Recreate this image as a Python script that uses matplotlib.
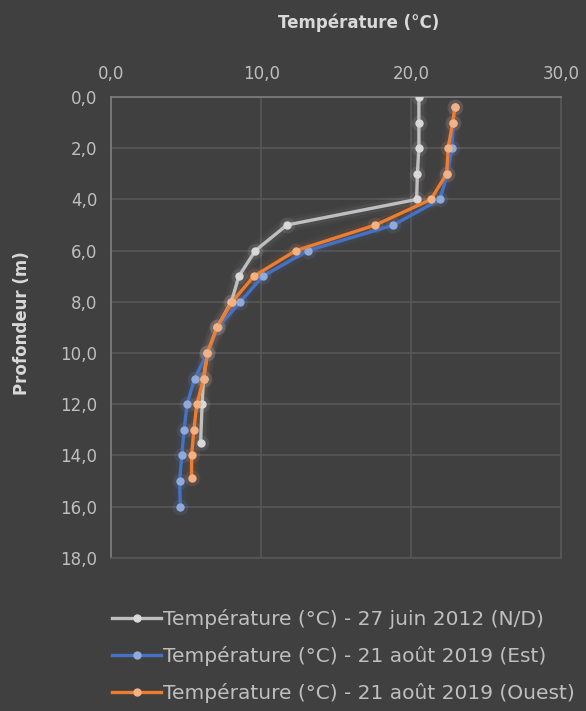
import matplotlib.pyplot as plt

plt.rcParams["font.family"] = ["DejaVu Sans"]

# profil 27 juin 2012 (N/D)
depth_nd = [0, 1, 2, 3, 4, 5, 6, 7, 8, 9, 10, 11, 12, 13.5]
temp_nd = [20.5, 20.5, 20.5, 20.4, 20.35, 11.7, 9.6, 8.5, 8.0, 7.05, 6.4, 6.15, 6.05, 5.95]

# profil 21 août 2019 (Est)
depth_est = [0.4, 1, 2, 3, 4, 5, 6, 7, 8, 9, 10, 11, 12, 13, 14, 15, 16]
temp_est = [22.9, 22.8, 22.7, 22.4, 21.9, 18.8, 13.1, 10.1, 8.6, 7.1, 6.4, 5.55, 5.05, 4.85, 4.7, 4.55, 4.6]

# profil 21 août 2019 (Ouest)
depth_ouest = [0.4, 1, 2, 3, 4, 5, 6, 7, 8, 9, 10, 11, 12, 13, 14, 14.9]
temp_ouest = [22.9, 22.75, 22.45, 22.35, 21.3, 17.6, 12.3, 9.5, 8.05, 7.05, 6.4, 6.15, 5.7, 5.5, 5.35, 5.35]

series = [
    ("Température (°C) - 27 juin 2012 (N/D)", temp_nd, depth_nd, "#bfbfbf", "#d9d9d9"),
    ("Température (°C) - 21 août 2019 (Est)", temp_est, depth_est, "#4472c4", "#8faadc"),
    ("Température (°C) - 21 août 2019 (Ouest)", temp_ouest, depth_ouest, "#ed7d31", "#f4b183"),
]

bg = "#404040"
txt = "#bfbfbf"

fig = plt.figure(figsize=(5.86, 7.11), dpi=100, facecolor=bg)
ax = fig.add_axes([0.190, 0.2155, 0.768, 0.648], facecolor=bg)

for label, t, d, c, mc in series:
    # halo
    for w, a in [(11, 0.04), (7, 0.07)]:
        ax.plot(t, d, c=c, lw=w, alpha=a, solid_capstyle="round", zorder=2)
    ax.scatter(t, d, s=130, color=mc, alpha=0.1, lw=0, zorder=2)
    ax.plot(t, d, c=c, lw=2.4, marker="o", ms=5, mfc=mc, mec=mc, label=label, zorder=3)

ax.set_xlim(0, 30)
ax.set_ylim(18, 0)
ax.set_xticks([0, 10, 20, 30])
ax.set_yticks(range(0, 19, 2))
ax.set_xticklabels([f"{v:.1f}".replace(".", ",") for v in [0, 10, 20, 30]])
ax.set_yticklabels([f"{v:.1f}".replace(".", ",") for v in range(0, 19, 2)])
ax.xaxis.tick_top()
ax.tick_params(colors=txt, labelsize=12, length=0)
ax.tick_params(axis="x", pad=10)
ax.tick_params(axis="y", pad=10)
ax.grid(color="#575757", lw=1.2)
for s in ["right", "bottom"]:
    ax.spines[s].set_color("#575757")
    ax.spines[s].set_linewidth(1.2)
for s in ["top", "left"]:
    ax.spines[s].set_color("#7f7f7f")
    ax.spines[s].set_linewidth(1.2)
ax.set_axisbelow(True)

fig.text(0.612, 0.968, "Température (°C)", color="#d9d9d9", fontsize=12,
         fontweight="bold", ha="center", va="center")
fig.text(0.037, 0.546, "Profondeur (m)", color="#d9d9d9", fontsize=12,
         fontweight="bold", ha="center", va="center", rotation=90)

leg = fig.legend(loc="upper left", bbox_to_anchor=(0.178, 0.155), frameon=False,
                 fontsize=14.5, labelcolor=txt, handlelength=2.4, handletextpad=0.1,
                 labelspacing=0.85, borderaxespad=0)

fig.savefig("out.png", dpi=100, facecolor=bg)
